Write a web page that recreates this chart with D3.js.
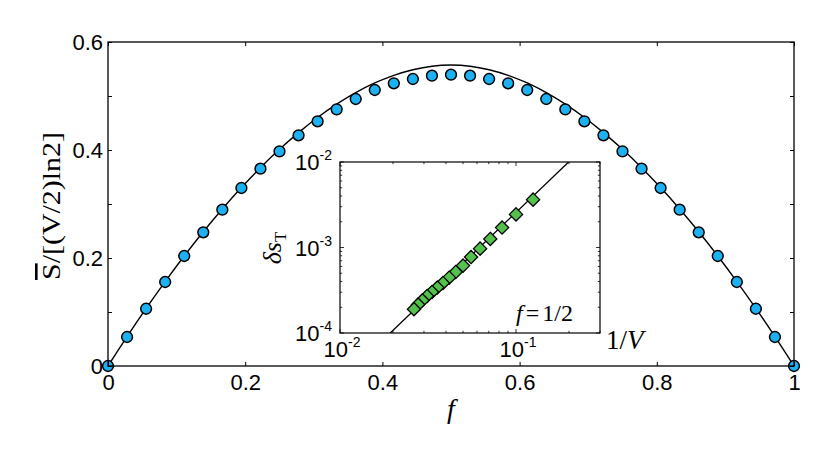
<!DOCTYPE html>
<html>
<head>
<meta charset="utf-8">
<script src="https://cdn.jsdelivr.net/npm/d3@7"></script>
<style>
html,body{margin:0;padding:0;background:#fff;}
svg{display:block;}
</style>
</head>
<body>
<svg id="chart" width="830" height="466"></svg>
<script>
// ---------------- data ----------------
const nSites = 36;                       // points at f = k/36
const pointValues = [0, 0.0537, 0.1060, 0.1556, 0.2037, 0.2476, 0.2895, 0.3296, 0.3654, 0.3975,
  0.4272, 0.4531, 0.4753, 0.4944, 0.5111, 0.5235, 0.5315, 0.5376, 0.5395,
  0.5376, 0.5315, 0.5235, 0.5111, 0.4944, 0.4753, 0.4531, 0.4272, 0.3975, 0.3654,
  0.3296, 0.2895, 0.2476, 0.2037, 0.1556, 0.1060, 0.0537, 0];
const curveValues = [0, 0.0544, 0.1066, 0.1564, 0.2037, 0.2486, 0.2908, 0.3304, 0.3673, 0.4012,
  0.4322, 0.4601, 0.4848, 0.5062, 0.5241, 0.5383, 0.5487, 0.5552, 0.5573,
  0.5552, 0.5487, 0.5383, 0.5241, 0.5062, 0.4848, 0.4601, 0.4322, 0.4012, 0.3673,
  0.3304, 0.2908, 0.2486, 0.2037, 0.1564, 0.1066, 0.0544, 0];
const xTicks = [0, 0.2, 0.4, 0.6, 0.8, 1];
const yTicks = [0, 0.1, 0.2, 0.3, 0.4, 0.5, 0.6];
const yTickLabels = ["0", "", "0.2", "", "0.4", "", "0.6"];

// inset
const insetV = [8, 10, 12, 14, 16, 18, 20, 22, 24, 26, 28, 30, 32, 34, 36, 38];
const insetDs = [3.63e-3, 2.44e-3, 1.71e-3, 1.26e-3, 9.7e-4, 7.74e-4, 6.14e-4, 5.17e-4,
  4.44e-4, 3.85e-4, 3.40e-4, 3.02e-4, 2.71e-4, 2.41e-4, 2.15e-4, 1.90e-4];
const fitX = [0.0193, 0.199];
const fitY = [1e-4, 1e-2];
const insetXMajor = [0.01, 0.1];
const insetXMajorExp = ["-2", "-1"];
const insetYMajor = [1e-4, 1e-3, 1e-2];
const insetYMajorExp = ["-4", "-3", "-2"];

// ---------------- drawing ----------------
const svg = d3.select("#chart");
const x = d3.scaleLinear().domain([0, 1]).range([108, 794]);
const y = d3.scaleLinear().domain([0, 0.6]).range([366, 42]);

const sans = "'Liberation Sans', Arial, Helvetica, sans-serif";
const serif = "'Liberation Serif', 'Times New Roman', serif";

// main curve
const line = d3.line().x((d, i) => x(i / nSites)).y(d => y(d)).curve(d3.curveCatmullRom);
svg.append("path").datum(curveValues).attr("d", line)
  .attr("fill", "none").attr("stroke", "#000").attr("stroke-width", 1.4);

// points
svg.append("g").selectAll("circle").data(pointValues).join("circle")
  .attr("cx", (d, i) => x(i / nSites)).attr("cy", d => y(d)).attr("r", 5.4)
  .attr("fill", "#1bb1f3").attr("stroke", "#000").attr("stroke-width", 1.5);

// frame & axes
svg.append("rect").attr("x", x(0)).attr("y", y(0.6)).attr("width", x(1) - x(0)).attr("height", y(0) - y(0.6))
  .attr("fill", "none").attr("stroke", "#000").attr("stroke-width", 1.3);

function styleAxis(g) {
  g.select(".domain").remove();
  g.selectAll(".tick line").attr("stroke", "#000").attr("stroke-width", 1);
  g.selectAll(".tick text").attr("font-family", sans).attr("font-size", 22).attr("fill", "#000");
}
svg.append("g").attr("transform", `translate(0,${y(0)})`)
  .call(d3.axisBottom(x).tickValues(xTicks).tickSize(-4).tickPadding(8).tickFormat(d3.format("")))
  .call(styleAxis);
svg.append("g").attr("transform", `translate(0,${y(0.6)})`)
  .call(d3.axisTop(x).tickValues(xTicks).tickSize(-4).tickFormat(""))
  .call(styleAxis);
svg.append("g").attr("transform", `translate(${x(0)},0)`)
  .call(d3.axisLeft(y).tickValues(yTicks).tickSize(-4).tickPadding(5).tickFormat((d, i) => yTickLabels[i]))
  .call(styleAxis);
svg.append("g").attr("transform", `translate(${x(1)},0)`)
  .call(d3.axisRight(y).tickValues(yTicks).tickSize(-4).tickFormat(""))
  .call(styleAxis);

// axis labels
svg.append("text").attr("x", 451).attr("y", 418).attr("text-anchor", "middle")
  .attr("font-family", serif).attr("font-style", "italic").attr("font-size", 28).text("f");

const yl = svg.append("text").attr("transform", "translate(60,206) rotate(-90)")
  .attr("text-anchor", "middle").attr("font-family", serif).attr("font-size", 26)
  .attr("textLength", 148).attr("lengthAdjust", "spacingAndGlyphs");
yl.append("tspan").attr("text-decoration", "overline").style("text-decoration", "overline").text("S");
yl.append("tspan").text("/[(V/2)ln2]");

// ---------------- inset ----------------
const ix = d3.scaleLog().domain([0.01, 0.3]).range([340, 600]);
const iy = d3.scaleLog().domain([1e-4, 1e-2]).range([333, 162]);

svg.append("rect").attr("x", 340).attr("y", 162).attr("width", 260).attr("height", 171)
  .attr("fill", "#fff");

const ig = svg.append("g");
svg.append("clipPath").attr("id", "insetClip").append("rect")
  .attr("x", 340).attr("y", 162).attr("width", 260).attr("height", 171);
ig.append("path").attr("clip-path", "url(#insetClip)")
  .datum(fitX.map((v, i) => [v, fitY[i]]))
  .attr("d", d3.line().x(d => ix(d[0])).y(d => iy(d[1])))
  .attr("stroke", "#000").attr("stroke-width", 1.3).attr("fill", "none");

const r = 6.6;
ig.selectAll("path.dia").data(insetV).join("path").attr("class", "dia")
  .attr("transform", (v, i) => `translate(${ix(1 / v)},${iy(insetDs[i])})`)
  .attr("d", `M0,${-r}L${r},0L0,${r}L${-r},0Z`)
  .attr("fill", "#52c24a").attr("stroke", "#000").attr("stroke-width", 1.3);

// inset ticks
const xMinor = [];
for (const dec of [0.01, 0.1]) for (let m = 1; m <= 9; m++) { const v = dec * m; if (v <= 0.3 + 1e-9) xMinor.push(v); }
const yMinor = [];
for (const dec of [1e-4, 1e-3]) for (let m = 1; m <= 9; m++) yMinor.push(dec * m);
yMinor.push(1e-2);
const tickG = ig.append("g").attr("stroke", "#000").attr("stroke-width", 0.8);
xMinor.forEach(v => {
  const major = insetXMajor.some(m => Math.abs(m - v) < 1e-9);
  const L = major ? 4 : 2.2;
  tickG.append("line").attr("x1", ix(v)).attr("x2", ix(v)).attr("y1", 333).attr("y2", 333 - L);
  tickG.append("line").attr("x1", ix(v)).attr("x2", ix(v)).attr("y1", 162).attr("y2", 162 + L);
});
yMinor.forEach(v => {
  const major = insetYMajor.some(m => Math.abs(m - v) / m < 1e-6);
  const L = major ? 4 : 2.2;
  tickG.append("line").attr("y1", iy(v)).attr("y2", iy(v)).attr("x1", 340).attr("x2", 340 + L);
  tickG.append("line").attr("y1", iy(v)).attr("y2", iy(v)).attr("x1", 600).attr("x2", 600 - L);
});
ig.append("rect").attr("x", 340).attr("y", 162).attr("width", 260).attr("height", 171)
  .attr("fill", "none").attr("stroke", "#000").attr("stroke-width", 1.2);

// inset tick labels
insetYMajor.forEach((v, i) => {
  const t = ig.append("text").attr("x", 332).attr("y", iy(v) + 8).attr("text-anchor", "end")
    .attr("font-family", sans).attr("font-size", 22);
  t.append("tspan").text("10");
  t.append("tspan").attr("dy", -10).attr("font-size", 14).text(insetYMajorExp[i]);
});
insetXMajor.forEach((v, i) => {
  const t = ig.append("text").attr("x", ix(v) + 2).attr("y", 357).attr("text-anchor", "middle")
    .attr("font-family", sans).attr("font-size", 22);
  t.append("tspan").text("10");
  t.append("tspan").attr("dy", -10).attr("font-size", 14).text(insetXMajorExp[i]);
});

// inset labels
const xl = ig.append("text").attr("x", 606).attr("y", 349).attr("font-family", serif).attr("font-size", 27);
xl.append("tspan").text("1/");
xl.append("tspan").attr("font-style", "italic").text("V");

const fl = ig.append("text").attr("x", 516).attr("y", 321).attr("font-family", serif).attr("font-size", 24);
fl.append("tspan").attr("font-style", "italic").text("f");
fl.append("tspan").attr("dx", 3).text("=");
fl.append("tspan").attr("dx", 3).text("1/2");

const dl = ig.append("text").attr("transform", "translate(281,248) rotate(-90)")
  .attr("text-anchor", "middle").attr("font-family", serif).attr("font-size", 26);
dl.append("tspan").attr("font-style", "italic").text("δs");
dl.append("tspan").attr("dy", 5).attr("font-size", 17).text("T");
</script>
</body>
</html>
